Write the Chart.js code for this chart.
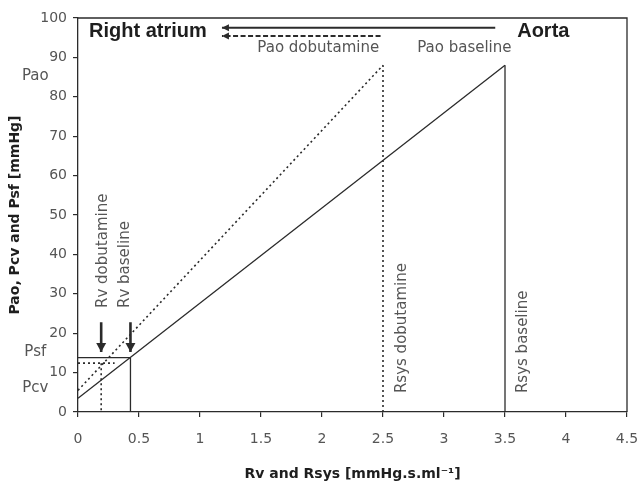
<!DOCTYPE html>
<html lang="en">
<head>
<meta charset="UTF-8">
<title>Pao, Pcv and Psf vs Rv and Rsys</title>
<script src="https://cdn.jsdelivr.net/npm/chart.js@4.4.0/dist/chart.umd.min.js"></script>
<style>
    html, body { margin: 0; padding: 0; background: #ffffff; }
    .chart-box { width: 638px; height: 484px; }
</style>
</head>
<body>
<div class="chart-box"><canvas id="flowChart"></canvas></div>
<script>
// values: [baseline, dobutamine]
const seriesNames = ['baseline', 'dobutamine'];
const pcv = [3.5, 5.5];
const pao = [88, 88];
const rsys = [3.5, 2.5];
const rv = [0.43, 0.19];
const psf = [13.8, 12.4];
const psfLineEnd = [0.43, 0.3];
const flowArrowStart = [3.42, 2.48];
const flowArrowEnd = [1.18, 1.18];
const flowArrowLevel = [97.5, 95.4];
const rvArrowTop = [22.8, 22.8];
const rvArrowTip = [15.2, 15.2];
const xTicks = [0, 0.5, 1, 1.5, 2, 2.5, 3, 3.5, 4, 4.5];
const yTicks = [0, 10, 20, 30, 40, 50, 60, 70, 80, 90, 100];

const ink = '#2b2b2b';
const grey = '#555555';
const styles = [
    { dash: [], width: 1.3, arrowDash: [] },
    { dash: [2, 3], width: 1.6, arrowDash: [5, 2.5] }
];

function seg(points, s, extra) {
    return Object.assign({
        data: points,
        showLine: true,
        borderColor: ink,
        borderWidth: s.width,
        borderDash: s.dash,
        pointRadius: 0,
        fill: false,
        tension: 0,
        clip: false
    }, extra || {});
}

const datasets = [];
seriesNames.forEach((name, i) => {
    const s = styles[i];
    // pressure line from Pcv up to Pao
    datasets.push(seg([{ x: 0, y: pcv[i] }, { x: rsys[i], y: pao[i] }], s, { label: 'P ' + name }));
    // Rsys vertical
    datasets.push(seg([{ x: rsys[i], y: 0 }, { x: rsys[i], y: pao[i] }], s, { label: 'Rsys ' + name }));
    // Psf level and Rv vertical
    datasets.push(seg([{ x: 0, y: psf[i] }, { x: psfLineEnd[i], y: psf[i] }], s, { label: 'Psf ' + name }));
    datasets.push(seg([{ x: rv[i], y: psf[i] }, { x: rv[i], y: 0 }], s, { label: 'Rv ' + name }));
    // aorta -> right atrium arrow
    datasets.push(seg([{ x: flowArrowStart[i], y: flowArrowLevel[i] }, { x: flowArrowEnd[i], y: flowArrowLevel[i] }],
        { dash: s.arrowDash, width: 2 }, { label: 'flow ' + name, arrowHead: [7, 3.5] }));
    // Rv pointer arrow
    datasets.push(seg([{ x: rv[i], y: rvArrowTop[i] }, { x: rv[i], y: rvArrowTip[i] }],
        { dash: [], width: 2.6 }, { label: 'Rv arrow ' + name, arrowHead: [9, 5] }));
});

const notes = [
    { text: 'Right atrium', x: 0.09, y: 96.6, font: 'bold 20px "Liberation Sans"', color: '#1e1e1e' },
    { text: 'Aorta', x: 3.6, y: 96.6, font: 'bold 20px "Liberation Sans"', color: '#1e1e1e' },
    { text: 'Pao dobutamine', x: 1.47, y: 92.3 },
    { text: 'Pao baseline', x: 2.78, y: 92.3 },
    { text: 'Pao', x: -0.35, y: 85.3, align: 'center' },
    { text: 'Psf', x: -0.35, y: 15.2, align: 'center' },
    { text: 'Pcv', x: -0.35, y: 6.1, align: 'center' },
    { text: 'Rv dobutamine', x: 0.205, y: 26.4, rotate: true },
    { text: 'Rv baseline', x: 0.385, y: 26.4, rotate: true },
    { text: 'Rsys dobutamine', x: 2.66, y: 4.8, rotate: true },
    { text: 'Rsys baseline', x: 3.65, y: 4.8, rotate: true }
];

const decorPlugin = {
    id: 'decor',
    afterDatasetsDraw(chart) {
        const { ctx, chartArea, scales } = chart;
        ctx.save();
        // frame round the plot
        ctx.strokeStyle = ink;
        ctx.lineWidth = 1.3;
        ctx.beginPath();
        ctx.moveTo(chartArea.left, chartArea.top);
        ctx.lineTo(chartArea.right, chartArea.top);
        ctx.lineTo(chartArea.right, chartArea.bottom);
        ctx.stroke();

        // arrow heads
        chart.data.datasets.forEach((ds, i) => {
            if (!ds.arrowHead) return;
            const pts = chart.getDatasetMeta(i).data;
            const a = pts[pts.length - 2], b = pts[pts.length - 1];
            const ang = Math.atan2(b.y - a.y, b.x - a.x);
            const [len, half] = ds.arrowHead;
            ctx.save();
            ctx.translate(b.x, b.y);
            ctx.rotate(ang);
            ctx.fillStyle = ink;
            ctx.beginPath();
            ctx.moveTo(0, 0);
            ctx.lineTo(-len, -half);
            ctx.lineTo(-len, half);
            ctx.closePath();
            ctx.fill();
            ctx.restore();
        });

        // text notes
        notes.forEach(n => {
            const px = scales.x.getPixelForValue(n.x);
            const py = scales.y.getPixelForValue(n.y);
            ctx.save();
            ctx.font = n.font || '15px "DejaVu Sans"';
            ctx.fillStyle = n.color || grey;
            ctx.textBaseline = 'middle';
            ctx.textAlign = n.align || 'left';
            ctx.translate(px, py);
            if (n.rotate) ctx.rotate(-Math.PI / 2);
            ctx.fillText(n.text, 0, 0);
            ctx.restore();
        });
        ctx.restore();
    }
};

new Chart(document.getElementById('flowChart'), {
    type: 'scatter',
    data: { datasets: datasets },
    options: {
        responsive: true,
        maintainAspectRatio: false,
        animation: false,
        layout: { padding: { top: 18, right: 11, left: 0, bottom: 0 } },
        plugins: {
            legend: { display: false },
            tooltip: { enabled: false }
        },
        scales: {
            x: {
                type: 'linear',
                min: 0,
                max: 4.5,
                afterBuildTicks: s => { s.ticks = xTicks.map(v => ({ value: v })); },
                afterFit: s => { s.height = 72; s.paddingLeft = 0; s.paddingRight = 0; },
                ticks: {
                    color: grey,
                    font: { family: 'DejaVu Sans', size: 14 },
                    padding: 14,
                    maxRotation: 0,
                    autoSkip: false,
                    callback: v => String(v)
                },
                grid: { drawOnChartArea: false, drawTicks: true, tickLength: 5, color: ink, lineWidth: 1.2 },
                border: { color: ink, width: 1.3 },
                title: {
                    display: true,
                    text: 'Rv and Rsys [mmHg.s.ml\u207B\u00B9]',
                    color: '#1e1e1e',
                    font: { family: 'DejaVu Sans', weight: 'bold', size: 14 },
                    padding: { top: 0, bottom: 1 }
                }
            },
            y: {
                type: 'linear',
                min: 0,
                max: 100,
                afterBuildTicks: s => { s.ticks = yTicks.map(v => ({ value: v })); },
                afterFit: s => { s.width = 78; s.paddingTop = 0; s.paddingBottom = 0; },
                ticks: {
                    color: grey,
                    font: { family: 'DejaVu Sans', size: 14 },
                    padding: 6,
                    autoSkip: false
                },
                grid: { drawOnChartArea: false, drawTicks: true, tickLength: 5, color: ink, lineWidth: 1.2 },
                border: { color: ink, width: 1.3 },
                title: {
                    display: true,
                    text: 'Pao, Pcv and Psf [mmHg]',
                    color: '#1e1e1e',
                    font: { family: 'DejaVu Sans', weight: 'bold', size: 14 },
                    padding: { top: 7, bottom: 0 }
                }
            }
        }
    },
    plugins: [decorPlugin]
});
</script>
</body>
</html>
